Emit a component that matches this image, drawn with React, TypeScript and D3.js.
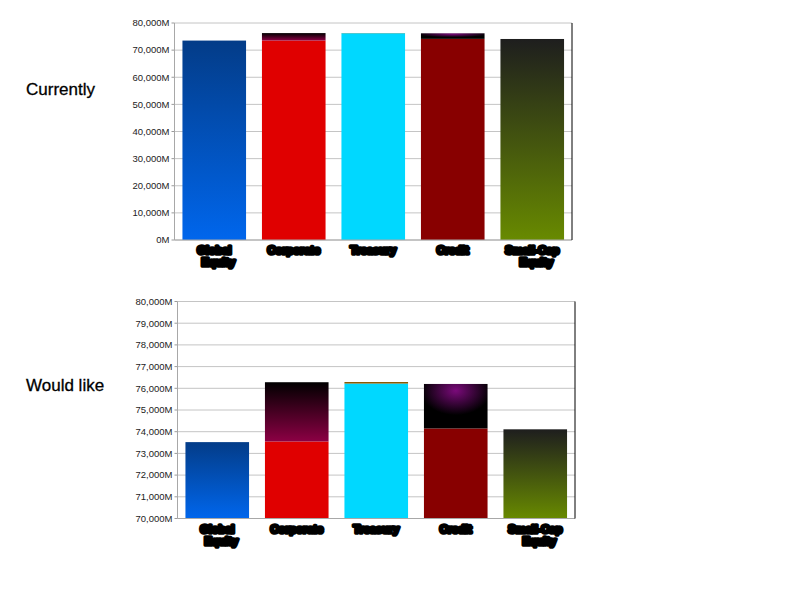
import * as d3 from 'd3';

// category labels (scribbled out in the original image)
const categories = ['Global\nEquity', 'Corporate', 'Treasury', 'Credit', 'Small-Cap\nEquity'];
// base series value and the stacked extra on top, in millions
const baseValues = [73520, 73550, 76220, 74150, 74110];
const extraValues = [0, 2730, 70, 2050, 0];

const baseFills = ['url(#gBlue)', '#e00000', '#00d8ff', '#880000', 'url(#gOlive)'];
const extraFills = ['#000', 'url(#gMaroon)', '#8b5a00', 'url(#gPurple)', '#000'];

const FONT = 'Arial, "Liberation Sans", sans-serif';

interface PanelProps {
  title: string;
  titleY: number;
  left: number;
  right: number;
  top: number;
  bottom: number;
  domain: [number, number];
  step: number;
}

function Panel({ title, titleY, left, right, top, bottom, domain, step }: PanelProps) {
  const x = d3
    .scaleBand<string>()
    .domain(categories)
    .range([left, right])
    .paddingInner(0.2)
    .paddingOuter(0.1);
  const y = d3.scaleLinear().domain(domain).range([bottom, top]).clamp(true);
  const ticks = d3.range(domain[0], domain[1] + 1, step);
  const fmt = d3.format(',');

  return (
    <g>
      <text x={26} y={titleY} fontFamily={FONT} fontSize={17} fill='#000' stroke='#000' strokeWidth={0.3}>
        {title}
      </text>

      {/* grid + ticks */}
      {ticks.map((t) => (
        <g key={t}>
          <line x1={left} x2={right} y1={y(t)} y2={y(t)} stroke='#c4c4c4' strokeWidth={1} />
          <line x1={left - 3} x2={left} y1={y(t)} y2={y(t)} stroke='#9a9a9a' strokeWidth={1} />
          <text
            x={left - 5}
            y={y(t)}
            dy='0.35em'
            textAnchor='end'
            fontFamily={FONT}
            fontSize={9.5}
            fill='#222'
          >
            {fmt(t)}M
          </text>
        </g>
      ))}

      {/* bars */}
      {categories.map((c, i) => {
        const x0 = x(c) ?? 0;
        const w = x.bandwidth();
        const b = baseValues[i];
        const e = extraValues[i];
        const yb = y(b);
        const ye = y(b + e);
        return (
          <g key={c}>
            <rect x={x0} y={yb} width={w} height={y(domain[0]) - yb} fill={baseFills[i]} />
            {e > 0 && <rect x={x0} y={ye} width={w} height={yb - ye} fill={extraFills[i]} />}
          </g>
        );
      })}

      {/* axes */}
      <line x1={left} x2={left} y1={top} y2={bottom} stroke='#a8a8a8' />
      <line x1={left} x2={right} y1={bottom} y2={bottom} stroke='#a8a8a8' />
      <line x1={right} x2={right} y1={top} y2={bottom} stroke='#000' />

      {/* category labels */}
      {categories.map((c) => {
        const cx = (x(c) ?? 0) + x.bandwidth() / 2;
        return (
          <text
            key={c}
            x={cx}
            y={bottom + 14}
            textAnchor='middle'
            fontFamily={FONT}
            fontSize={11}
            fontWeight='bold'
            fill='#000'
            stroke='#000'
            strokeWidth={3.6}
            strokeLinejoin='round'
          >
            {c.split('\n').map((line, k) => (
              <tspan key={k} x={cx + k * 4} dy={k === 0 ? 0 : 12}>
                {line}
              </tspan>
            ))}
          </text>
        );
      })}
    </g>
  );
}

export default function App() {
  return (
    <svg
      width={800}
      height={600}
      style={{ position: 'absolute', left: 0, top: 0, background: '#fff' }}
    >
      <defs>
        <linearGradient id='gBlue' x1='0' y1='0' x2='0' y2='1'>
          <stop offset='0' stopColor='#033c88' />
          <stop offset='1' stopColor='#0066ec' />
        </linearGradient>
        <linearGradient id='gOlive' x1='0' y1='0' x2='0' y2='1'>
          <stop offset='0' stopColor='#1e1e1e' />
          <stop offset='1' stopColor='#688a00' />
        </linearGradient>
        <linearGradient id='gMaroon' x1='0' y1='0' x2='0' y2='1'>
          <stop offset='0' stopColor='#000' />
          <stop offset='1' stopColor='#8c0044' />
        </linearGradient>
        <radialGradient id='gPurple' cx='0.5' cy='0.15' r='0.55'>
          <stop offset='0' stopColor='#7a0a7a' />
          <stop offset='1' stopColor='#000' />
        </radialGradient>
      </defs>
      <Panel
        title='Currently'
        titleY={95}
        left={174.5}
        right={572}
        top={23}
        bottom={240}
        domain={[0, 80000]}
        step={10000}
      />
      <Panel
        title='Would like'
        titleY={391}
        left={177.5}
        right={575}
        top={301.5}
        bottom={518.5}
        domain={[70000, 80000]}
        step={1000}
      />
    </svg>
  );
}
